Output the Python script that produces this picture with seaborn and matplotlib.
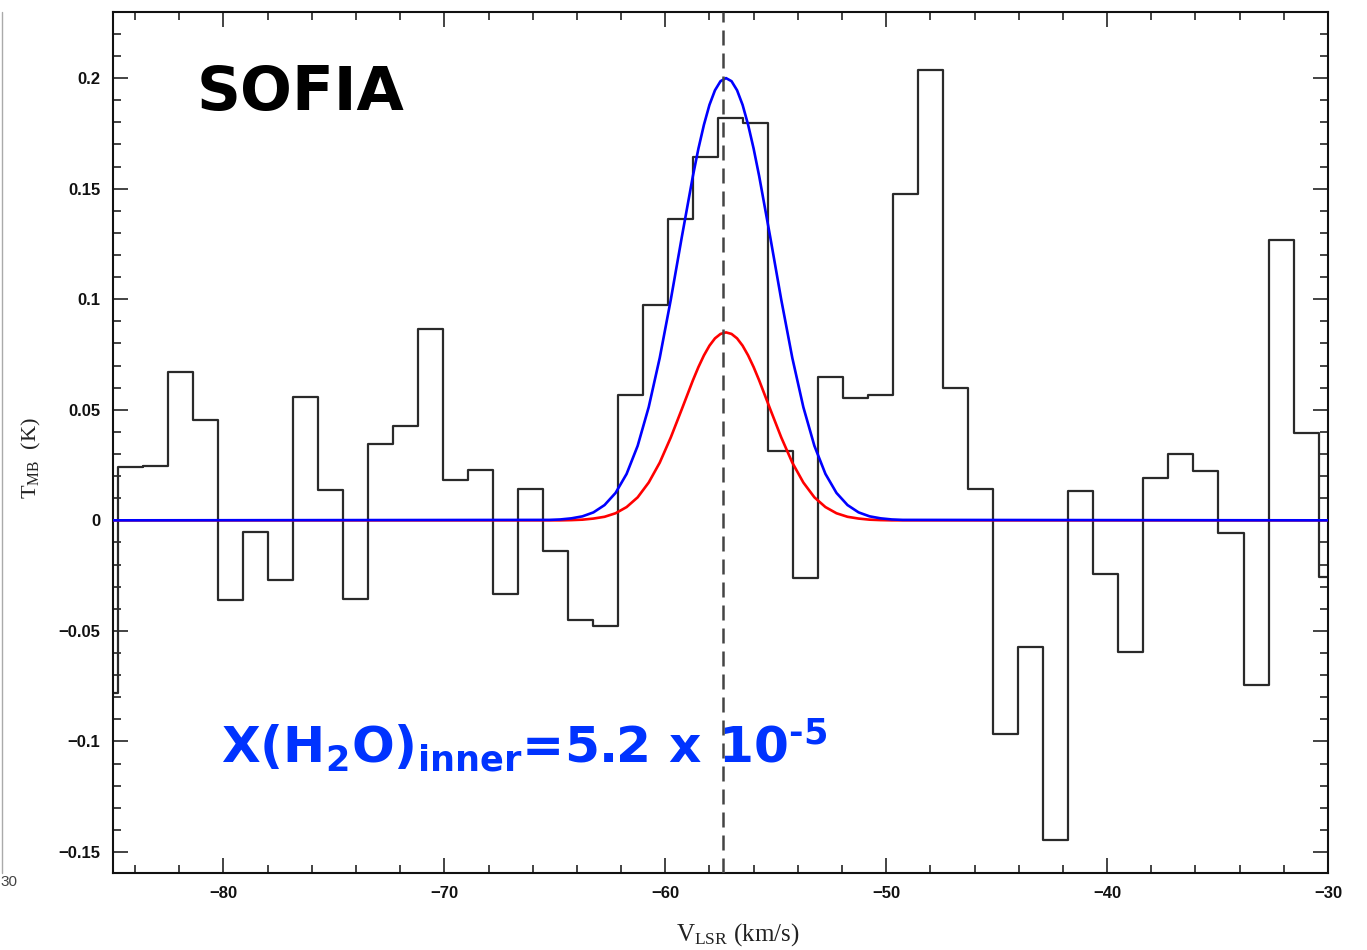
import numpy as np
import pandas as pd
import matplotlib
matplotlib.use("Agg")
import matplotlib.pyplot as plt
from matplotlib.lines import Line2D
from matplotlib.ticker import MultipleLocator, FuncFormatter
import seaborn as sns

# ---- observed spectrum (channel temperatures, K) ----
first_edge = -84.787      # km/s, lower edge of the first full channel
chan_width = 1.1325       # km/s
t_mb = [-0.078, 0.0241, 0.0246, 0.0671, 0.0455, -0.0362, -0.0053, -0.0271,
        0.0558, 0.0139, -0.0355, 0.0347, 0.0425, 0.0864, 0.0184, 0.0226,
        -0.0332, 0.0143, -0.0138, -0.0451, -0.0480, 0.0567, 0.0976, 0.1362,
        0.1641, 0.1821, 0.1797, 0.0312, -0.0260, 0.0649, 0.0555, 0.0567,
        0.1474, 0.2036, 0.0600, 0.0143, -0.0965, -0.0573, -0.1445, 0.0133,
        -0.0244, -0.0596, 0.0193, 0.0302, 0.0222, -0.0057, -0.0743, 0.1270,
        0.0395, -0.0256]
v_chan = first_edge - chan_width / 2 + chan_width * np.arange(len(t_mb))

# ---- model line profiles ----
model_v = [-85.0, -65.25, -64.75, -64.25, -63.75, -63.25, -62.75, -62.25,
           -61.75, -61.25, -60.75, -60.25, -59.75, -59.25, -58.75, -58.5,
           -58.25, -58.0, -57.75, -57.5, -57.25, -57.0, -56.75, -56.5,
           -56.25, -56.0, -55.75, -55.25, -54.75, -54.25, -53.75, -53.25,
           -52.75, -52.25, -51.75, -51.25, -50.75, -50.25, -49.75, -49.25,
           -30.0]
model_total = [0.0, 0.0002, 0.0004, 0.0009, 0.0018, 0.0036, 0.0069, 0.0124,
               0.0210, 0.0337, 0.0512, 0.0735, 0.0998, 0.1282, 0.1557, 0.1681,
               0.1789, 0.1879, 0.1945, 0.1986, 0.2000, 0.1986, 0.1945, 0.1879,
               0.1789, 0.1681, 0.1557, 0.1282, 0.0998, 0.0735, 0.0512, 0.0337,
               0.0210, 0.0124, 0.0069, 0.0036, 0.0018, 0.0009, 0.0004, 0.0002,
               0.0]
model_inner = [0.0, 0.0, 0.0, 0.0001, 0.0003, 0.0008, 0.0016, 0.0032,
               0.0060, 0.0104, 0.0171, 0.0261, 0.0375, 0.0503, 0.0633, 0.0693,
               0.0746, 0.0790, 0.0823, 0.0843, 0.0850, 0.0843, 0.0823, 0.0790,
               0.0746, 0.0693, 0.0633, 0.0503, 0.0375, 0.0261, 0.0171, 0.0104,
               0.0060, 0.0032, 0.0016, 0.0008, 0.0003, 0.0001, 0.0, 0.0,
               0.0]
v_source = -57.4

spec = pd.DataFrame({"v": v_chan, "t": t_mb})
models = pd.DataFrame({"v": model_v, "total": model_total, "inner": model_inner})

sns.set_style("ticks")
plt.rcParams["font.family"] = ["Liberation Sans", "DejaVu Sans"]
plt.rcParams["mathtext.fontset"] = "custom"
plt.rcParams["mathtext.rm"] = "DejaVu Sans:bold"
plt.rcParams["mathtext.bf"] = "DejaVu Sans:bold"
plt.rcParams["mathtext.it"] = "DejaVu Sans:bold"
plt.rcParams["mathtext.sf"] = "Liberation Serif"

fig = plt.figure(figsize=(13.67, 9.5), dpi=100)
W, H = 1367, 950
ax = fig.add_axes([113 / W, 1 - 873 / H, (1328 - 113) / W, (873 - 12) / H])

sns.lineplot(data=models, x="v", y="inner", ax=ax, color="#ff0000", lw=1.9,
             sort=False, estimator=None, zorder=3)
sns.lineplot(data=models, x="v", y="total", ax=ax, color="#0000ff", lw=1.9,
             sort=False, estimator=None, zorder=4)
sns.lineplot(data=spec, x="v", y="t", ax=ax, color="#2a2a2a", lw=1.6,
             drawstyle="steps-mid", sort=False, estimator=None, zorder=2)
ax.axvline(v_source, color="#444444", lw=1.8, dashes=(6, 3.2), zorder=5)

ax.set_xlim(-85, -30)
ax.set_ylim(-0.1595, 0.2299)

ax.xaxis.set_major_locator(MultipleLocator(10))
ax.xaxis.set_minor_locator(MultipleLocator(2))
ax.yaxis.set_major_locator(MultipleLocator(0.05))
ax.yaxis.set_minor_locator(MultipleLocator(0.01))


def fmt(v, _):
    s = f"{v:.2f}".rstrip("0").rstrip(".")
    if s in ("-0", "0"):
        return "0"
    return s.replace("-", "\u2212")


ax.xaxis.set_major_formatter(FuncFormatter(lambda v, _: f"{v:.0f}".replace("-", "\u2212")))
ax.yaxis.set_major_formatter(FuncFormatter(fmt))
ax.tick_params(which="both", direction="in", top=True, right=True, width=1.1,
               colors="#111111")
ax.tick_params(which="major", length=11, labelsize=12, pad=9)
ax.tick_params(which="minor", length=5.5)
for lab in ax.get_xticklabels() + ax.get_yticklabels():
    lab.set_fontweight("bold")
for sp in ax.spines.values():
    sp.set_linewidth(1.5)
    sp.set_color("#111111")

ax.set_xlabel(r"$\mathsf{V_{LSR}}$ (km/s)", family="Liberation Serif",
              fontsize=18, color="#222222")
ax.set_ylabel(r"$\mathsf{T_{MB}}$  (K)", family="Liberation Serif",
              fontsize=16, color="#222222")
ax.xaxis.set_label_coords(0.514, -0.056)
ax.yaxis.set_label_coords(-0.058, 0.482)

ax.text(-81.2, 0.1856, "SOFIA", family="DejaVu Sans", fontweight="bold",
        fontsize=44, color="black", va="baseline", ha="left")
ax.text(-80.1, -0.1100,
        r"X(H$_{\mathrm{2}}$O)$_{\mathrm{inner}}$=5.2 x 10$^{\text{-5}}$",
        family="DejaVu Sans", fontweight="bold", fontsize=36.2, color="#0033ff",
        va="baseline", ha="left")

# edge of the neighbouring panel
fig.add_artist(Line2D([0.0015, 0.0015], [1 - 873 / H, 1 - 12 / H],
                      transform=fig.transFigure, color="#aaaaaa", lw=1))
fig.text(0.0, 1 - 882 / H, "30", fontsize=11, color="#444444", va="center")

fig.savefig("out.png", dpi=100)
